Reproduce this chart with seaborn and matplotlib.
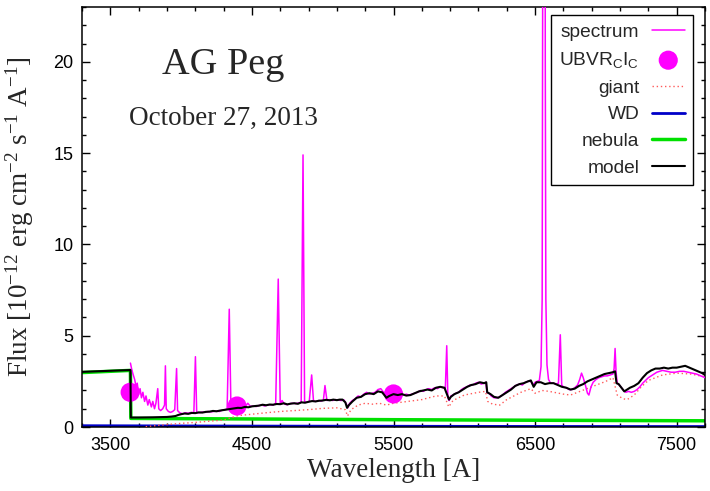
import matplotlib
matplotlib.use("Agg")
import matplotlib.pyplot as plt
import seaborn as sns
from matplotlib.ticker import MultipleLocator

# observed spectrum (flux in 1e-12 erg cm-2 s-1 A-1)
spec_wl = [3642, 3650, 3660, 3672, 3682, 3690, 3700, 3710, 3720, 3730, 3742, 3752, 3765, 3775,
           3790, 3800, 3812, 3822, 3835, 3842, 3855, 3870, 3883, 3889, 3895, 3910, 3925, 3940,
           3955, 3968, 3975, 3990, 4010, 4030, 4050, 4070, 4090, 4101, 4110, 4130, 4150, 4170,
           4190, 4210, 4230, 4250, 4270, 4290, 4310, 4325, 4340, 4352, 4370, 4390, 4410, 4430,
           4450, 4471, 4490, 4510, 4530, 4550, 4570, 4590, 4610, 4630, 4650, 4668, 4686, 4700,
           4713, 4730, 4750, 4770, 4790, 4810, 4830, 4848, 4861, 4872, 4890, 4905, 4922, 4935,
           4950, 4970, 4990, 5005, 5016, 5030, 5050, 5070, 5090, 5110, 5130, 5150, 5168, 5178,
           5190, 5210, 5230, 5250, 5270, 5290, 5310, 5330, 5350, 5370, 5390, 5410, 5430, 5450,
           5470, 5490, 5510, 5530, 5550, 5570, 5590, 5610, 5630, 5650, 5670, 5690, 5710, 5730,
           5750, 5770, 5790, 5810, 5830, 5850, 5866, 5876, 5884, 5893, 5905, 5920, 5940, 5960,
           5980, 6000, 6020, 6040, 6060, 6080, 6100, 6120, 6140, 6152, 6160, 6175, 6190, 6210,
           6230, 6250, 6270, 6290, 6310, 6330, 6350, 6370, 6390, 6410, 6430, 6450, 6470, 6485,
           6500, 6515, 6530, 6542, 6550, 6553, 6558, 6563, 6568, 6572, 6576, 6584, 6595, 6610,
           6630, 6650, 6665, 6678, 6688, 6700, 6720, 6740, 6760, 6780, 6800, 6815, 6828, 6840,
           6855, 6870, 6880, 6895, 6910, 6930, 6950, 6970, 6990, 7010, 7030, 7050, 7058, 7065,
           7072, 7080, 7095, 7110, 7125, 7140, 7160, 7180, 7200, 7220, 7240, 7260, 7280, 7300,
           7320, 7340, 7360, 7380, 7400, 7430, 7460, 7490, 7520, 7550, 7580, 7610, 7640, 7670,
           7700]
spec_flux = [3.5, 3.2, 2.9, 2.6, 2.2, 2.4, 1.8, 2.1, 1.6, 1.9, 1.4, 1.7, 1.2, 1.5,
             1.1, 1.4, 1.0, 1.3, 2.1, 1.0, 0.9, 1.0, 1.2, 3.35, 1.0, 0.85, 0.8, 0.85,
             0.95, 3.2, 0.9, 0.78, 0.72, 0.78, 0.75, 0.8, 0.78, 3.85, 0.8, 0.78, 0.82, 0.8,
             0.85, 0.83, 0.85, 0.88, 0.85, 0.92, 0.95, 0.98, 6.45, 1.0, 1.02, 1.05, 1.05, 1.1,
             1.08, 1.3, 1.12, 1.15, 1.12, 1.18, 1.2, 1.15, 1.2, 1.22, 1.2, 1.3, 8.1, 1.25,
             1.45, 1.25, 1.22, 1.28, 1.3, 1.28, 1.32, 1.35, 14.9, 1.38, 1.35, 1.4, 2.85, 1.42,
             1.4, 1.45, 1.42, 1.48, 2.27, 1.45, 1.5, 1.45, 1.5, 1.48, 1.45, 1.48, 1.25, 1.05,
             1.3, 1.45, 1.55, 1.7, 1.65, 1.8, 1.9, 1.8, 1.85, 1.9, 2.05, 2.1, 1.9, 1.65,
             1.75, 1.8, 1.85, 1.8, 1.85, 1.75, 1.8, 1.75, 1.8, 1.85, 1.9, 2.0, 1.95, 2.05,
             2.1, 2.05, 2.15, 2.1, 2.2, 2.15, 2.1, 4.45, 1.6, 1.45, 1.7, 1.75, 1.85, 1.9,
             2.05, 2.15, 2.2, 2.3, 2.3, 2.4, 2.45, 2.35, 2.4, 2.45, 1.9, 1.85, 1.7, 1.6,
             1.6, 1.65, 1.75, 1.9, 2.0, 2.1, 2.2, 2.3, 2.35, 2.3, 2.45, 2.5, 2.5, 2.3,
             2.45, 2.5, 2.55, 3.3, 7.0, 20.0, 60.0, 80.0, 60.0, 20.0, 7.0, 3.4, 2.6, 2.4,
             2.4, 2.35, 2.4, 5.05, 2.3, 2.2, 2.15, 2.05, 2.05, 2.15, 2.3, 2.6, 2.95, 2.7,
             2.3, 1.85, 1.75, 2.2, 2.45, 2.6, 2.7, 2.75, 2.8, 2.8, 2.85, 2.9, 3.2, 4.3,
             3.0, 2.4, 2.3, 2.15, 2.0, 1.9, 1.95, 1.9, 1.95, 2.05, 2.2, 2.4, 2.55, 2.7,
             2.8, 2.9, 3.0, 3.05, 3.1, 3.05, 3.0, 3.0, 3.05, 3.05, 3.0, 2.95, 2.9, 2.8,
             2.7]

# UBVRcIc photometry
phot_wl = [3640, 4395, 5500]
phot_flux = [1.9, 1.15, 1.81]

# giant component
giant_wl = [3750, 3850, 4000, 4100, 4200, 4300, 4350, 4400, 4500, 4600, 4700, 4800, 4900,
            5000, 5100, 5160, 5175, 5200, 5250, 5300, 5350, 5400, 5450, 5500, 5600, 5700,
            5800, 5860, 5890, 5920, 6000, 6100, 6150, 6165, 6200, 6250, 6300, 6400, 6470,
            6500, 6550, 6600, 6700, 6750, 6800, 6900, 7000, 7050, 7080, 7120, 7150, 7200,
            7250, 7300, 7400, 7500, 7600, 7700]
giant_flux = [0.02, 0.1, 0.2, 0.25, 0.32, 0.38, 0.5, 0.62, 0.7, 0.78, 0.85, 0.9, 0.95,
              1.02, 1.05, 0.95, 0.6, 0.95, 1.2, 1.3, 1.25, 1.3, 1.2, 1.3, 1.4, 1.5,
              1.7, 1.7, 1.1, 1.45, 1.75, 1.9, 1.95, 1.4, 1.25, 1.2, 1.5, 1.9, 2.1,
              1.85, 2.0, 1.95, 1.8, 1.75, 1.9, 2.2, 2.5, 2.7, 1.75, 1.55, 1.5, 1.75,
              2.2, 2.55, 2.85, 2.95, 2.9, 2.75]

# white dwarf
wd_wl = [3300, 4500, 5500, 6500, 7700]
wd_flux = [0.07, 0.05, 0.04, 0.03, 0.025]

# nebula
nebula_wl = [3300, 3642, 3645, 4500, 5500, 6500, 7700]
nebula_flux = [2.98, 3.1, 0.47, 0.44, 0.4, 0.37, 0.34]

# total model
model_wl = [3300, 3642, 3645, 3700, 3800, 3900, 3930, 3960, 3980, 4000, 4025, 4050, 4075,
            4100, 4125, 4150, 4175, 4200, 4225, 4250, 4275, 4300, 4325, 4350, 4375, 4400,
            4425, 4450, 4475, 4500, 4525, 4550, 4575, 4600, 4625, 4650, 4675, 4700, 4725,
            4750, 4775, 4800, 4825, 4850, 4875, 4900, 4925, 4950, 4975, 5000, 5025, 5050,
            5075, 5100, 5120, 5140, 5160, 5172, 5185, 5210, 5240, 5270, 5300, 5330, 5360,
            5390, 5420, 5450, 5470, 5500, 5530, 5560, 5590, 5620, 5650, 5680, 5710, 5740,
            5770, 5800, 5830, 5860, 5880, 5892, 5905, 5930, 5960, 5990, 6020, 6050, 6080,
            6110, 6140, 6155, 6162, 6185, 6210, 6240, 6270, 6300, 6330, 6360, 6390, 6420,
            6450, 6470, 6490, 6510, 6540, 6570, 6600, 6630, 6660, 6690, 6720, 6750, 6780,
            6810, 6840, 6870, 6900, 6930, 6960, 6990, 7020, 7050, 7065, 7075, 7090, 7110,
            7130, 7150, 7170, 7200, 7230, 7260, 7290, 7320, 7350, 7380, 7410, 7440, 7470,
            7500, 7530, 7560, 7590, 7620, 7650, 7680, 7700]
model_flux = [3.02, 3.12, 0.52, 0.52, 0.53, 0.55, 0.57, 0.6, 0.66, 0.7, 0.74, 0.72, 0.77,
              0.76, 0.8, 0.79, 0.83, 0.84, 0.88, 0.86, 0.9, 0.93, 0.96, 0.99, 1.02, 1.05,
              1.04, 1.1, 1.08, 1.13, 1.15, 1.17, 1.22, 1.19, 1.23, 1.22, 1.26, 1.25, 1.3,
              1.24, 1.28, 1.3, 1.27, 1.35, 1.33, 1.38, 1.42, 1.4, 1.44, 1.45, 1.49, 1.46,
              1.5, 1.47, 1.5, 1.5, 1.35, 1.05, 1.2, 1.4, 1.6, 1.65, 1.8, 1.85, 1.8,
              1.95, 1.9, 1.6, 1.7, 1.8, 1.75, 1.8, 1.72, 1.75, 1.85, 1.95, 2.0, 2.05,
              2.0, 2.15, 2.2, 2.15, 1.75, 1.5, 1.65, 1.8, 1.9, 2.05, 2.2, 2.3, 2.35,
              2.45, 2.4, 2.45, 1.9, 1.8, 1.65, 1.6, 1.75, 1.9, 2.05, 2.25, 2.35, 2.4,
              2.5, 2.55, 2.2, 2.45, 2.45, 2.35, 2.4, 2.4, 2.3, 2.2, 2.15, 2.05, 2.1,
              2.25, 2.35, 2.5, 2.6, 2.7, 2.8, 2.9, 2.95, 3.0, 3.05, 2.4, 2.35, 2.15,
              1.95, 2.05, 2.15, 2.25, 2.4, 2.7, 2.95, 3.1, 3.2, 3.2, 3.25, 3.2, 3.25,
              3.25, 3.3, 3.35, 3.25, 3.15, 3.05, 2.95, 2.85]

sns.set_style("ticks")
plt.rcParams["font.family"] = ["Liberation Sans", "DejaVu Sans"]
plt.rcParams["mathtext.default"] = "regular"

fig = plt.figure(figsize=(7.1, 4.91), dpi=100)
ax = fig.add_axes([82 / 710, 1 - 427 / 491, 623 / 710, 420 / 491])

sns.lineplot(x=nebula_wl, y=nebula_flux, ax=ax, color="#00e000", lw=2.5, sort=False,
             estimator=None, label="nebula", zorder=2)
sns.lineplot(x=wd_wl, y=wd_flux, ax=ax, color="#0000c8", lw=2.0, sort=False,
             estimator=None, label="WD", zorder=2)
sns.lineplot(x=giant_wl, y=giant_flux, ax=ax, color="#ff5a5a", lw=1.0, linestyle=(0, (1, 2)),
             sort=False, estimator=None, label="giant", zorder=3)
sns.lineplot(x=spec_wl, y=spec_flux, ax=ax, color="#ff00ff", lw=1.1, sort=False,
             estimator=None, label="spectrum", zorder=4)
sns.scatterplot(x=phot_wl, y=phot_flux, ax=ax, color="#ff00ff", s=190, edgecolor="none",
                label="UBVR$_C$I$_C$", zorder=5)
sns.lineplot(x=model_wl, y=model_flux, ax=ax, color="black", lw=1.5, sort=False,
             estimator=None, label="model", zorder=6)

ax.set_xlim(3300, 7700)
ax.set_ylim(0, 23)
ax.xaxis.set_major_locator(MultipleLocator(1000, offset=500))
ax.xaxis.set_minor_locator(MultipleLocator(200, offset=100))
ax.yaxis.set_major_locator(MultipleLocator(5))
ax.yaxis.set_minor_locator(MultipleLocator(1))
ax.tick_params(which="both", direction="in", top=True, right=True, width=1.0,
               labelsize=13, colors="black")
ax.tick_params(which="major", length=6)
ax.tick_params(which="minor", length=3)
ax.tick_params(axis="x", pad=7)
ax.tick_params(axis="y", pad=6)
for sp in ax.spines.values():
    sp.set_linewidth(1.1)
    sp.set_color("black")

serif = ["Liberation Serif", "DejaVu Serif"]
ax.set_xlabel("Wavelength [A]", fontsize=19.5, family=serif)
ax.set_ylabel("Flux [10$^{-12}$ erg cm$^{-2}$ s$^{-1}$ A$^{-1}$]", fontsize=19.5, family=serif)
ax.xaxis.set_label_coords(0.5, -0.074)
ax.xaxis.label.set_verticalalignment("top")
ax.yaxis.set_label_coords(-0.074, 0.5)

ax.text(4300, 19.34, "AG Peg", ha="center", va="baseline", fontsize=27.5, family=serif)
ax.text(4300, 16.54, "October 27, 2013", ha="center", va="baseline", fontsize=19.5, family=serif)

handles, labels = ax.get_legend_handles_labels()
order = ["spectrum", "UBVR$_C$I$_C$", "giant", "WD", "nebula", "model"]
hmap = dict(zip(labels, handles))
leg = ax.legend([hmap[k] for k in order], order, loc="upper right",
                bbox_to_anchor=(0.981, 0.981), borderaxespad=0, markerfirst=False,
                fontsize=13.8, frameon=True, fancybox=False, framealpha=1,
                edgecolor="black", borderpad=0.45, labelspacing=0.48,
                handlelength=1.7, handletextpad=0.65)
leg.get_frame().set_linewidth(1.0)
leg.set_zorder(10)

fig.savefig("out.png", dpi=100)
